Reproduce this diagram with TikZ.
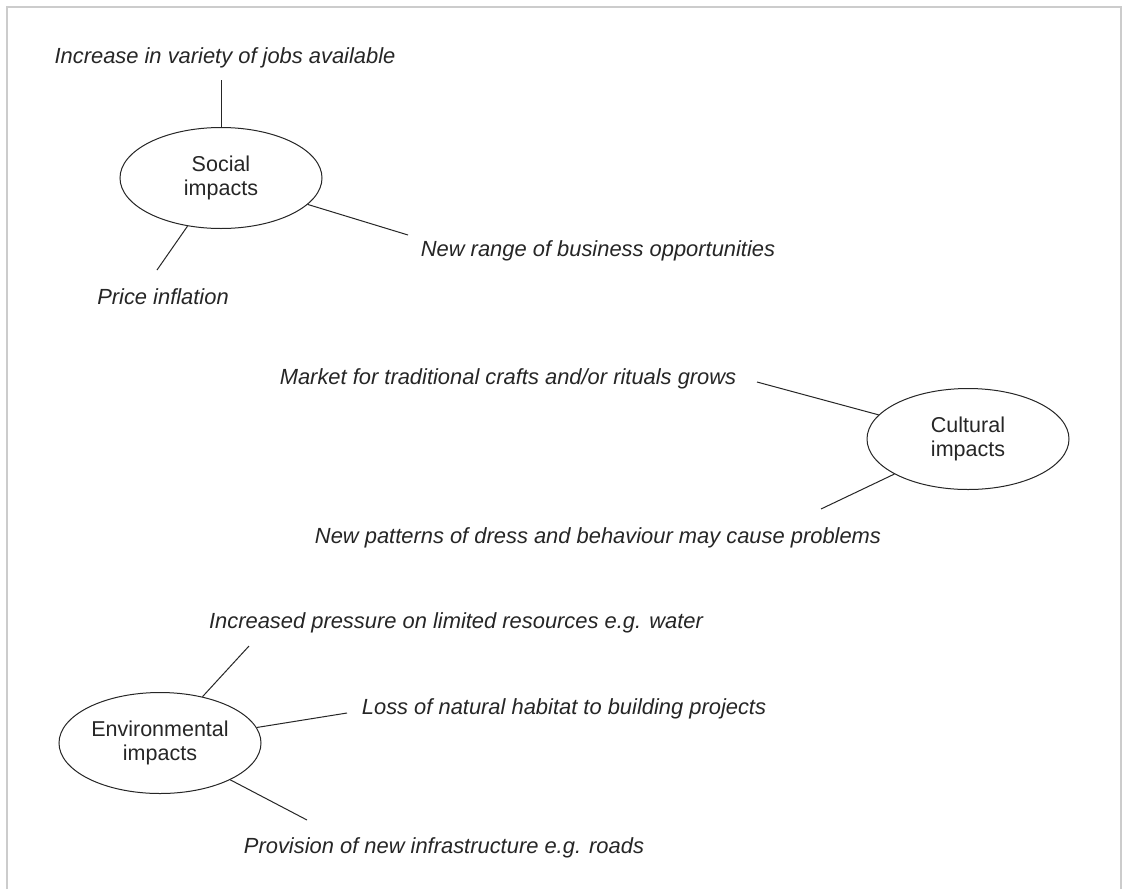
\documentclass[tikz,border=0pt]{standalone}
\usepackage{fontspec}
\setmainfont{Liberation Sans}
\usepackage{tikz}
\usetikzlibrary{shapes.geometric}

\begin{document}
\begin{tikzpicture}[
    x=1pt, y=-1pt,
    impact/.style={draw=black!85, line width=1pt, ellipse, align=center, inner sep=0pt,
      minimum width=202pt, minimum height=101pt, text=black!85, font=\fontsize{21.5}{24}\selectfont},
    effect/.style={inner sep=0pt, anchor=base, text=black!85, font=\fontsize{21.9}{24}\selectfont\itshape},
    spoke/.style={draw=black!85, line width=1pt}
  ]
    \useasboundingbox (0,0) rectangle (1123,889);
    \fill[white] (0,0) rectangle (1123,889);
    \draw[black!20, line width=2pt] (7,889) |- (1121,7) -- (1121,889);

    % centres
    \node[impact] (social) at (221,178) {Social\\impacts};
    \node[impact] (cultural) at (968,439) {Cultural\\impacts};
    \node[impact] (environ) at (160,743) {Environmental\\impacts};

    % social
    \node[effect] (jobs) at (225,63) {Increase in variety of jobs available};
    \node[effect] (business) at (598,256) {New range of business opportunities};
    \node[effect] (prices) at (163,304) {Price inflation};
    \coordinate (jobsend) at (221,80);
    \coordinate (businessend) at (408,235);
    \coordinate (pricesend) at (157,270);
    \draw[spoke] (social) -- (jobsend);
    \draw[spoke] (social) -- (businessend);
    \draw[spoke] (social) -- (pricesend);

    % cultural
    \node[effect] (crafts) at (508,384) {Market for traditional crafts and/or rituals grows};
    \node[effect] (dress) at (598,543) {New patterns of dress and behaviour may cause problems};
    \coordinate (craftsend) at (757,382);
    \coordinate (dressend) at (821,509);
    \draw[spoke] (cultural) -- (craftsend);
    \draw[spoke] (cultural) -- (dressend);

    % environmental
    \node[effect] (water) at (456,628) {Increased pressure on limited resources e.g. water};
    \node[effect] (habitat) at (564,714) {Loss of natural habitat to building projects};
    \node[effect] (roads) at (444,853) {Provision of new infrastructure e.g. roads};
    \coordinate (waterend) at (249,646);
    \coordinate (habitatend) at (347,713);
    \coordinate (roadsend) at (307,820);
    \draw[spoke] (environ) -- (waterend);
    \draw[spoke] (environ) -- (habitatend);
    \draw[spoke] (environ) -- (roadsend);
  \end{tikzpicture}
\end{document}
